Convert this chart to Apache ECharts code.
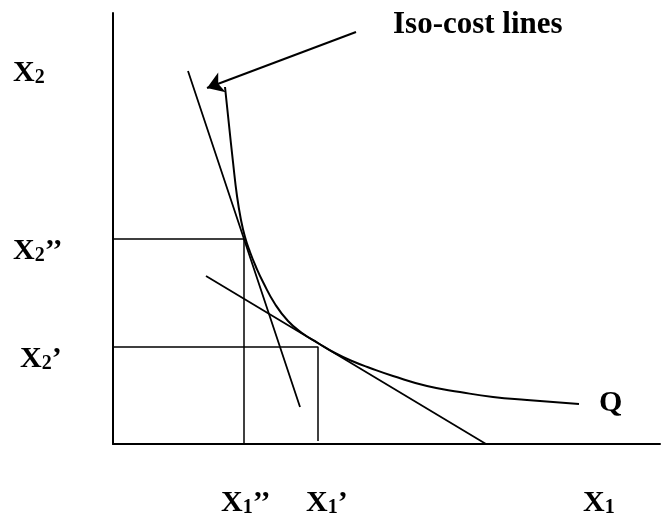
<!DOCTYPE html>
<html>
<head>
<meta charset="utf-8">
<script src="https://cdn.jsdelivr.net/npm/echarts@6/dist/echarts.min.js"></script>
<style>
html,body{margin:0;padding:0;background:#fff;}
#main{width:662px;height:530px;}
</style>
</head>
<body>
<div id="main"></div>
<script>
// Isoquant Q (x1, x2) in chart units
const isoquantQ = [[112,357],[116,319],[120,282],[124,248],[128,224],[132,207],[137,192],[143,177],[150,162],[162,140],[175,123],[189,111],[205,101],[222,91],[239,83],[257,76],[280,68],[314,58],[347,52],[380,47],[414,44],[466,40]];
// Iso-cost lines
const isoCostSteep = [[75,373],[187,37]];
const isoCostFlat = [[93,168],[373,0]];
// Input combinations (X1'', X2'') and (X1', X2')
const pointA = [131,205];
const pointB = [205,97];
const guideBBottom = 3;
// Arrow from label to iso-cost line
const arrowLine = [[243,412],[94,356]];
const xMax = 547, yMax = 431;

const F = '"Liberation Serif","Times New Roman",serif';
function subLabel(main, sub, prime){
  return '{a|' + main + '}{b|' + sub + '}' + (prime ? '{a|' + prime + '}' : '');
}
const rich = {
  a:{fontFamily:F,fontWeight:'bold',fontSize:30,lineHeight:30,verticalAlign:'top',color:'#000'},
  b:{fontFamily:F,fontWeight:'bold',fontSize:20,lineHeight:15,verticalAlign:'bottom',color:'#000'}
};
function lbl(x,y,text){
  return {type:'text',left:x,top:y,style:{text:text,rich:rich,fill:'#000'}};
}

const chart = echarts.init(document.getElementById('main'), null, {renderer:'canvas'});
const seg = (d,w) => ({type:'line',data:d,symbol:'none',silent:true,lineStyle:{color:'#000',width:w},animation:false});
chart.setOption({
  backgroundColor:'#fff',
  animation:false,
  grid:{left:113,top:13,right:2,bottom:86},
  xAxis:{type:'value',min:0,max:xMax,axisLine:{show:true,onZero:false,lineStyle:{color:'#000',width:2}},axisTick:{show:false},axisLabel:{show:false},splitLine:{show:false}},
  yAxis:{type:'value',min:0,max:yMax,axisLine:{show:true,onZero:false,lineStyle:{color:'#000',width:2}},axisTick:{show:false},axisLabel:{show:false},splitLine:{show:false}},
  series:[
    Object.assign(seg(isoquantQ,2),{smooth:0.5}),
    seg(isoCostSteep,1.8),
    seg(isoCostFlat,1.8),
    seg([[0,pointA[1]],pointA,[pointA[0],0]],1.5),
    seg([[0,pointB[1]],pointB,[pointB[0],guideBBottom]],1.5),
    {type:'lines',coordinateSystem:'cartesian2d',silent:true,animation:false,
     symbol:['none','arrow'],symbolSize:[11,16],
     lineStyle:{color:'#000',width:2,opacity:1},
     data:[{coords:arrowLine}]}
  ],
  graphic:[
    {type:'text',left:393,top:9,style:{text:'Iso-cost lines',font:'bold 31px '+F,fill:'#000'}},
    lbl(13,58,subLabel('X','2')),
    lbl(13,236,subLabel('X','2','’’')),
    lbl(20,344,subLabel('X','2','’')),
    lbl(221,488,subLabel('X','1','’’')),
    lbl(306,488,subLabel('X','1','’')),
    lbl(583,488,subLabel('X','1')),
    {type:'text',left:599,top:388,style:{text:'Q',font:'bold 30px '+F,fill:'#000'}}
  ]
});
</script>
</body>
</html>
